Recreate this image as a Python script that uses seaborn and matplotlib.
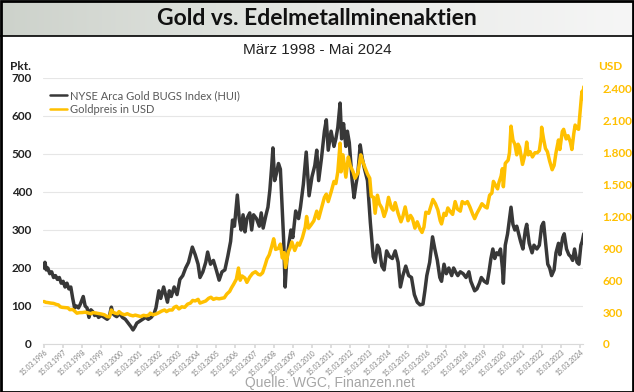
import numpy as np
import pandas as pd
import seaborn as sns
import matplotlib
matplotlib.use("Agg")
import matplotlib.pyplot as plt
from matplotlib.lines import Line2D
from matplotlib.patches import Rectangle
from matplotlib.colors import LinearSegmentedColormap

# ---------------- data ----------------
hui_t = [1996.20, 1996.25, 1996.32, 1996.40, 1996.50, 1996.60, 1996.70, 1996.80, 1996.90, 1997.00,
         1997.10, 1997.20, 1997.30, 1997.40, 1997.50, 1997.60, 1997.70, 1997.80, 1997.90, 1998.00,
         1998.10, 1998.25, 1998.35, 1998.45, 1998.55, 1998.65, 1998.75, 1998.85, 1998.95, 1999.05,
         1999.20, 1999.35, 1999.50, 1999.60, 1999.72, 1999.80, 1999.90, 2000.00, 2000.15, 2000.30,
         2000.45, 2000.60, 2000.75, 2000.85, 2000.95, 2001.05, 2001.20, 2001.35, 2001.50, 2001.65,
         2001.80, 2001.95, 2002.05, 2002.20, 2002.30, 2002.45, 2002.55, 2002.65, 2002.75, 2002.85,
         2003.00, 2003.15, 2003.30, 2003.45, 2003.60, 2003.75, 2003.95, 2004.10, 2004.25, 2004.35,
         2004.50, 2004.65, 2004.75, 2004.90, 2005.05, 2005.20, 2005.35, 2005.50, 2005.65, 2005.80,
         2005.95, 2006.05, 2006.15, 2006.30, 2006.40, 2006.50, 2006.60, 2006.70, 2006.80, 2006.95,
         2007.05, 2007.15, 2007.30, 2007.45, 2007.55, 2007.65, 2007.80, 2007.90, 2008.00, 2008.10,
         2008.16, 2008.25, 2008.35, 2008.45, 2008.55, 2008.65, 2008.72, 2008.80, 2008.88, 2009.00,
         2009.10, 2009.20, 2009.35, 2009.50, 2009.60, 2009.75, 2009.90, 2010.05, 2010.20, 2010.35,
         2010.45, 2010.55, 2010.70, 2010.85, 2010.95, 2011.05, 2011.20, 2011.35, 2011.45, 2011.55,
         2011.67, 2011.75, 2011.85, 2011.97, 2012.05, 2012.15, 2012.30, 2012.40, 2012.50, 2012.60,
         2012.72, 2012.82, 2012.95, 2013.10, 2013.25, 2013.40, 2013.50, 2013.62, 2013.72, 2013.85,
         2013.97, 2014.10, 2014.25, 2014.40, 2014.55, 2014.70, 2014.82, 2014.95, 2015.10, 2015.25,
         2015.40, 2015.55, 2015.70, 2015.85, 2016.00, 2016.10, 2016.20, 2016.35, 2016.50, 2016.62,
         2016.75, 2016.88, 2016.97, 2017.10, 2017.22, 2017.35, 2017.50, 2017.60, 2017.70, 2017.82,
         2017.95, 2018.10, 2018.25, 2018.40, 2018.50, 2018.62, 2018.70, 2018.82, 2018.95, 2019.05,
         2019.20, 2019.35, 2019.45, 2019.55, 2019.65, 2019.75, 2019.85, 2019.95, 2020.05, 2020.15,
         2020.20, 2020.30, 2020.42, 2020.52, 2020.60, 2020.70, 2020.80, 2020.90, 2021.00, 2021.10,
         2021.22, 2021.35, 2021.42, 2021.55, 2021.70, 2021.80, 2021.95, 2022.08, 2022.20, 2022.30,
         2022.40, 2022.52, 2022.62, 2022.72, 2022.85, 2022.95, 2023.08, 2023.15, 2023.30, 2023.38,
         2023.50, 2023.62, 2023.72, 2023.82, 2023.92, 2024.05, 2024.15, 2024.25, 2024.32, 2024.40]
hui_v = [200, 215, 195, 200, 185, 190, 175, 180, 170, 175,
         160, 165, 150, 160, 145, 150, 120, 95, 100, 95,
         105, 125, 100, 95, 70, 90, 85, 75, 80, 70,
         75, 70, 65, 70, 97, 80, 75, 72, 80, 70,
         65, 55, 45, 37, 45, 55, 60, 65, 70, 65,
         70, 80, 95, 140, 120, 150, 130, 110, 140, 125,
         150, 130, 170, 180, 200, 215, 255, 235, 210, 175,
         190, 215, 242, 210, 220, 195, 168, 190, 195, 230,
         270, 326, 310, 392, 330, 300, 340, 295, 330, 345,
         300, 340, 330, 310, 345, 305, 340, 360, 405, 470,
         516, 430, 450, 475, 460, 350, 275, 150, 220, 265,
         300, 280, 350, 330, 360, 420, 505, 390, 440, 470,
         510, 430, 490, 560, 590, 510, 560, 520, 540, 570,
         634, 540, 580, 520, 560, 530, 430, 385, 420, 450,
         524, 490, 460, 430, 320, 230, 215, 260, 250, 205,
         195, 245, 230, 225, 245, 215, 150, 180, 205, 180,
         175, 130, 110, 103, 105, 140, 180, 215, 282, 250,
         220, 175, 165, 210, 185, 200, 180, 200, 190, 180,
         190, 185, 175, 190, 165, 150, 140, 145, 160, 175,
         165, 160, 190, 225, 250, 225, 240, 235, 250, 200,
         160, 260, 290, 330, 360, 315, 300, 310, 290, 270,
         250, 300, 315, 265, 240, 260, 250, 260, 310, 320,
         270, 210, 200, 180, 195, 240, 265, 235, 280, 290,
         250, 235, 230, 220, 250, 215, 210, 260, 270, 290]

gold_t = [1996.20, 1996.30, 1996.40, 1996.55, 1996.70, 1996.85, 1996.95, 1997.05, 1997.15, 1997.30,
          1997.45, 1997.55, 1997.70, 1997.80, 1997.92, 1998.05, 1998.20, 1998.35, 1998.50, 1998.65,
          1998.75, 1998.90, 1999.05, 1999.20, 1999.35, 1999.50, 1999.62, 1999.72, 1999.80, 1999.92,
          2000.05, 2000.12, 2000.25, 2000.40, 2000.55, 2000.70, 2000.85, 2000.97, 2001.10, 2001.25,
          2001.40, 2001.55, 2001.70, 2001.75, 2001.90, 2002.05, 2002.20, 2002.35, 2002.50, 2002.60,
          2002.75, 2002.90, 2003.00, 2003.12, 2003.25, 2003.40, 2003.55, 2003.70, 2003.85, 2003.97,
          2004.10, 2004.25, 2004.35, 2004.50, 2004.65, 2004.80, 2004.92, 2005.05, 2005.20, 2005.35,
          2005.50, 2005.62, 2005.75, 2005.90, 2006.00, 2006.10, 2006.25, 2006.36, 2006.45, 2006.55,
          2006.70, 2006.80, 2006.95, 2007.10, 2007.25, 2007.40, 2007.50, 2007.62, 2007.75, 2007.85,
          2007.97, 2008.10, 2008.20, 2008.30, 2008.45, 2008.55, 2008.65, 2008.75, 2008.82, 2008.95,
          2009.05, 2009.15, 2009.30, 2009.45, 2009.55, 2009.70, 2009.85, 2009.92, 2010.02, 2010.15,
          2010.30, 2010.45, 2010.55, 2010.70, 2010.85, 2010.95, 2011.05, 2011.20, 2011.35, 2011.45,
          2011.55, 2011.67, 2011.72, 2011.82, 2011.97, 2012.10, 2012.20, 2012.35, 2012.45, 2012.60,
          2012.75, 2012.85, 2012.97, 2013.10, 2013.22, 2013.30, 2013.42, 2013.50, 2013.62, 2013.72,
          2013.85, 2013.97, 2014.08, 2014.20, 2014.35, 2014.45, 2014.55, 2014.70, 2014.85, 2014.95,
          2015.07, 2015.22, 2015.35, 2015.45, 2015.58, 2015.70, 2015.85, 2015.95, 2016.05, 2016.15,
          2016.30, 2016.40, 2016.52, 2016.65, 2016.78, 2016.90, 2016.97, 2017.10, 2017.20, 2017.30,
          2017.45, 2017.55, 2017.68, 2017.80, 2017.95, 2018.05, 2018.20, 2018.32, 2018.45, 2018.60,
          2018.70, 2018.82, 2018.97, 2019.08, 2019.25, 2019.35, 2019.48, 2019.60, 2019.68, 2019.80,
          2019.90, 2019.97, 2020.08, 2020.15, 2020.20, 2020.30, 2020.45, 2020.52, 2020.60, 2020.70,
          2020.80, 2020.90, 2020.97, 2021.05, 2021.20, 2021.35, 2021.42, 2021.50, 2021.60, 2021.72,
          2021.85, 2021.97, 2022.08, 2022.18, 2022.20, 2022.30, 2022.40, 2022.50, 2022.62, 2022.75,
          2022.85, 2022.95, 2023.08, 2023.15, 2023.28, 2023.35, 2023.48, 2023.58, 2023.70, 2023.78,
          2023.88, 2023.95, 2024.05, 2024.13, 2024.20, 2024.28, 2024.32, 2024.36, 2024.40]
gold_v = [400, 392, 390, 385, 382, 372, 368, 350, 345, 342,
          340, 323, 325, 310, 290, 295, 296, 300, 292, 285,
          295, 292, 287, 282, 275, 258, 255, 320, 300, 290,
          285, 305, 285, 275, 285, 272, 265, 272, 265, 258,
          270, 265, 275, 290, 275, 282, 295, 310, 320, 305,
          320, 320, 345, 355, 330, 350, 345, 375, 385, 410,
          405, 420, 385, 395, 405, 430, 440, 420, 430, 425,
          430, 435, 470, 495, 530, 560, 610, 715, 600, 640,
          620, 580, 630, 665, 680, 655, 650, 670, 740, 800,
          840, 920, 990, 890, 900, 940, 810, 860, 720, 860,
          900, 960, 880, 950, 930, 1000, 1100, 1200, 1090, 1120,
          1160, 1250, 1180, 1280, 1380, 1410, 1340, 1430, 1530, 1510,
          1620, 1890, 1620, 1780, 1570, 1760, 1680, 1620, 1560, 1610,
          1780, 1720, 1660, 1600, 1560, 1390, 1380, 1230, 1400, 1320,
          1280, 1200, 1260, 1380, 1280, 1260, 1330, 1230, 1150, 1200,
          1290, 1160, 1210, 1180, 1090, 1150, 1080, 1050, 1100, 1240,
          1230, 1290, 1360, 1320, 1260, 1160, 1130, 1230, 1210, 1280,
          1240, 1220, 1340, 1270, 1250, 1340, 1320, 1340, 1290, 1220,
          1180, 1230, 1280, 1320, 1290, 1280, 1400, 1420, 1530, 1490,
          1460, 1520, 1580, 1650, 1480, 1700, 1730, 1800, 2050, 1920,
          1880, 1780, 1880, 1850, 1690, 1800, 1900, 1780, 1810, 1760,
          1800, 1800, 1820, 1950, 2040, 1930, 1840, 1810, 1720, 1640,
          1680, 1800, 1920, 1830, 2000, 2020, 1930, 1960, 1900, 1830,
          1980, 2060, 2030, 2020, 2160, 2330, 2380, 2310, 2420]

tick_years = list(range(1996, 2025))
tick_labels = [f"15.03.{y}" for y in tick_years]
left_ticks = [0, 100, 200, 300, 400, 500, 600, 700]
right_ticks = [0, 300, 600, 900, 1200, 1500, 1800, 2100, 2400]
right_labels = ["0", "300", "600", "900", "1.200", "1.500", "1.800", "2.100", "2.400"]

hui_name = "NYSE Arca Gold BUGS Index (HUI)"
gold_name = "Goldpreis in USD"

# ---------------- styling ----------------
sns.set_theme(style="white")
plt.rcParams['font.family'] = ['Lato', 'DejaVu Sans']

HUI_C = "#383838"
GOLD_C = "#FFC000"

W, H = 634, 392
fig = plt.figure(figsize=(W / 100, H / 100), dpi=100)
fig.patch.set_facecolor("white")

# title band with gradient
band_h = 36
band = fig.add_axes([0, 1 - band_h / H, 1, band_h / H])
grad = np.linspace(0, 1, 256)[None, :]
cmap = LinearSegmentedColormap.from_list("band", ["#cdd2cb", "#e6e8e5", "#f6f6f6"])
band.imshow(grad, aspect="auto", cmap=cmap, extent=[0, 1, 0, 1])
band.set_axis_off()
band.text(0.5, 0.48, "Gold vs. Edelmetallminenaktien", ha="center", va="center",
          fontsize=16.5, fontweight="bold", color="#111111", transform=band.transAxes)
fig.add_artist(Line2D([0, 1], [1 - band_h / H, 1 - band_h / H], color="black", lw=1.2,
                      transform=fig.transFigure))

fig.text(0.5, 1 - 50 / H, "März 1998 - Mai 2024", ha="center", va="center",
         fontsize=11, color="#222222", family=["Liberation Sans", "DejaVu Sans"])

# main axes
x0, x1, ytop, ybot = 43, 583, 78, 344
ax = fig.add_axes([x0 / W, 1 - ybot / H, (x1 - x0) / W, (ybot - ytop) / H])
ax2 = ax.twinx()

df_hui = pd.DataFrame({"t": hui_t, "v": hui_v})
df_gold = pd.DataFrame({"t": gold_t, "v": gold_v})
sns.lineplot(data=df_hui, x="t", y="v", ax=ax, color=HUI_C, lw=2.5, sort=False)
sns.lineplot(data=df_gold, x="t", y="v", ax=ax2, color=GOLD_C, lw=2.5, sort=False)

px_per_year = 19.14
t_left = 1996.2 - 1 / px_per_year
ax.set_xlim(t_left, t_left + (x1 - x0) / px_per_year)
ax.set_ylim(0, 700)
ax2.set_ylim(0, 2400 + 11 * 300 / 32)

tick_pos = [y + 73 / 365 for y in tick_years]
ax.set_xticks(tick_pos)
ax.set_xticklabels(tick_labels, rotation=42, ha="right", rotation_mode="anchor",
                   fontsize=4.9, color="#7f7f7f")
ax.set_yticks(left_ticks)
ax.set_yticklabels([str(v) for v in left_ticks], fontsize=8.5, fontweight="bold", color="#222222")
ax2.set_yticks(right_ticks)
ax2.set_yticklabels(right_labels, fontsize=8.5, fontweight="bold", color=GOLD_C)

ax.grid(axis="y", color="#e6e6e6", lw=0.8)
ax.grid(axis="x", visible=False)
ax2.grid(False)
for a in (ax, ax2):
    a.set_xlabel("")
    a.set_ylabel("")
    for s in a.spines.values():
        s.set_visible(False)
ax.spines["bottom"].set_visible(True)
ax.spines["bottom"].set_color("#d9d9d9")
ax.spines["bottom"].set_linewidth(0.8)
ax.tick_params(axis="x", length=3, color="#d9d9d9", pad=0.5, bottom=True)
ax.tick_params(axis="y", length=0, pad=8)
ax2.tick_params(axis="y", length=0, pad=14)
ax.set_zorder(1)
ax2.set_zorder(2)
ax.patch.set_visible(False)
ax2.patch.set_visible(False)

fig.text(10 / W, 1 - 67 / H, "Pkt.", fontsize=8.5, fontweight="bold", color="#222222",
         va="center", ha="left")
fig.text(598 / W, 1 - 67 / H, "USD", fontsize=8.5, fontweight="bold", color=GOLD_C,
         va="center", ha="left")

handles = [Line2D([], [], color=HUI_C, lw=1.8), Line2D([], [], color=GOLD_C, lw=1.8)]
leg = ax.legend(handles, [hui_name, gold_name], loc="upper left",
                bbox_to_anchor=(0.0, 0.98), frameon=False, fontsize=8,
                handlelength=1.6, handletextpad=0.2, labelspacing=0.25, borderaxespad=0.2)
for t in leg.get_texts():
    t.set_color("#595959")
leg.set_zorder(5)

fig.text(0.52, 1 - 383 / H, "Quelle: WGC, Finanzen.net", ha="center", va="center",
         fontsize=10, color="#a6a6a6", family=["Liberation Sans", "DejaVu Sans"])

# outer border
fig.add_artist(Rectangle((0.5 / W, 0.5 / H), 1 - 1.5 / W, 1 - 1.5 / H, fill=False,
                         edgecolor="black", lw=2, transform=fig.transFigure))

fig.savefig("out.png", dpi=100)
